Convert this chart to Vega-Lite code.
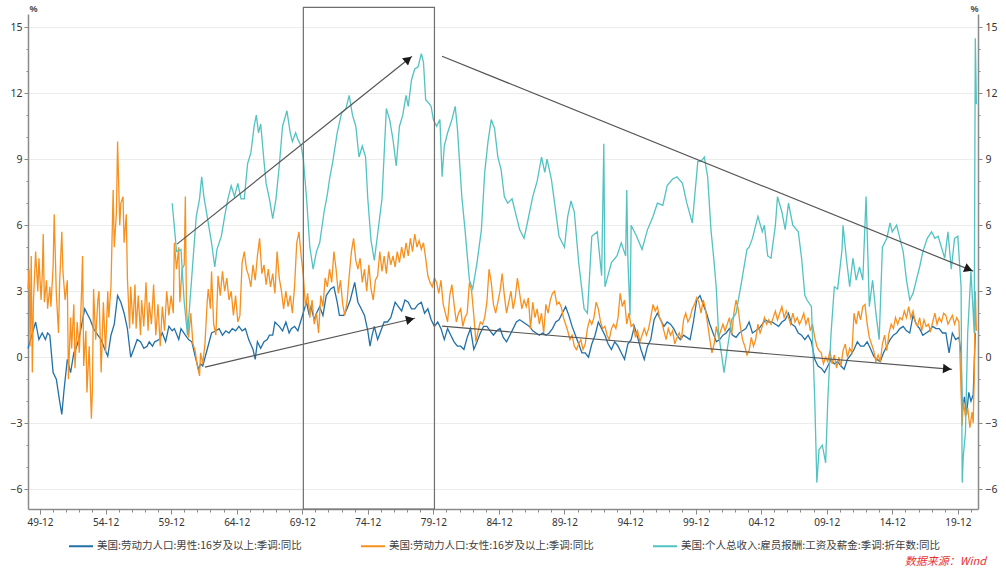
{
"$schema":"https://vega.github.io/schema/vega-lite/v6.json",
"width":950,"height":495,
"autosize":{"type":"none"},
"padding":{"left":28,"top":14,"right":28,"bottom":69},
"background":"white",
"config":{"view":{"stroke":null},"font":"Noto Sans"},
"title":{"text":"数据来源：Wind","orient":"bottom","anchor":"end","frame":"group","offset":4,"dx":8,"font":"Noto Sans CJK SC","fontSize":11,"fontStyle":"italic","fontWeight":"normal","color":"#e8312f"},
"datasets":{
"m":[{"t":"1949-01","v":0.4},{"t":"1949-04","v":0.9},{"t":"1949-08","v":1.6},{"t":"1949-11","v":0.8},{"t":"1950-02","v":1.1},{"t":"1950-05","v":0.8},{"t":"1950-07","v":1.1},{"t":"1950-09","v":1.0},{"t":"1950-12","v":-0.7},{"t":"1951-03","v":-1.0},{"t":"1951-06","v":-2.0},{"t":"1951-08","v":-2.6},{"t":"1951-10","v":-1.5},{"t":"1952-01","v":-0.1},{"t":"1952-04","v":-0.7},{"t":"1952-07","v":0.2},{"t":"1952-09","v":0.4},{"t":"1952-12","v":0.9},{"t":"1953-03","v":1.7},{"t":"1953-05","v":2.2},{"t":"1953-07","v":2.0},{"t":"1953-10","v":1.7},{"t":"1954-01","v":1.3},{"t":"1954-05","v":1.0},{"t":"1954-08","v":0.8},{"t":"1954-11","v":0.4},{"t":"1955-02","v":0.05},{"t":"1955-05","v":1.0},{"t":"1955-08","v":1.5},{"t":"1955-11","v":2.8},{"t":"1956-02","v":2.5},{"t":"1956-05","v":2.0},{"t":"1956-08","v":1.3},{"t":"1956-11","v":0.0},{"t":"1957-02","v":0.4},{"t":"1957-05","v":0.8},{"t":"1957-08","v":0.7},{"t":"1957-11","v":0.4},{"t":"1958-02","v":0.5},{"t":"1958-04","v":0.7},{"t":"1958-07","v":0.5},{"t":"1958-09","v":0.7},{"t":"1959-01","v":0.8},{"t":"1959-04","v":1.1},{"t":"1959-07","v":0.7},{"t":"1959-10","v":1.4},{"t":"1960-01","v":1.2},{"t":"1960-03","v":1.3},{"t":"1960-07","v":0.8},{"t":"1960-09","v":1.3},{"t":"1961-01","v":1.0},{"t":"1961-04","v":0.8},{"t":"1961-07","v":0.7},{"t":"1961-10","v":0.05},{"t":"1962-01","v":-0.55},{"t":"1962-03","v":-0.3},{"t":"1962-05","v":-0.4},{"t":"1962-09","v":0.35},{"t":"1963-01","v":1.1},{"t":"1963-05","v":1.2},{"t":"1963-08","v":1.3},{"t":"1963-11","v":1.0},{"t":"1964-02","v":1.2},{"t":"1964-05","v":1.1},{"t":"1964-08","v":1.3},{"t":"1964-11","v":1.2},{"t":"1965-02","v":1.4},{"t":"1965-05","v":1.2},{"t":"1965-08","v":1.3},{"t":"1965-11","v":0.8},{"t":"1966-03","v":0.35},{"t":"1966-05","v":-0.1},{"t":"1966-07","v":0.7},{"t":"1966-10","v":0.4},{"t":"1967-01","v":0.7},{"t":"1967-04","v":0.8},{"t":"1967-06","v":1.0},{"t":"1967-09","v":1.0},{"t":"1967-11","v":1.6},{"t":"1968-03","v":1.4},{"t":"1968-06","v":1.2},{"t":"1968-09","v":1.6},{"t":"1968-12","v":1.1},{"t":"1969-02","v":1.3},{"t":"1969-05","v":1.4},{"t":"1969-08","v":1.2},{"t":"1969-11","v":1.7},{"t":"1970-02","v":2.2},{"t":"1970-04","v":2.5},{"t":"1970-06","v":2.0},{"t":"1970-08","v":2.3},{"t":"1970-11","v":1.7},{"t":"1971-01","v":2.0},{"t":"1971-04","v":2.3},{"t":"1971-07","v":1.9},{"t":"1971-10","v":2.8},{"t":"1972-02","v":3.1},{"t":"1972-05","v":3.2},{"t":"1972-08","v":2.5},{"t":"1972-10","v":1.9},{"t":"1973-02","v":1.9},{"t":"1973-05","v":2.2},{"t":"1973-08","v":2.6},{"t":"1973-12","v":3.4},{"t":"1974-03","v":2.5},{"t":"1974-06","v":2.2},{"t":"1974-09","v":1.9},{"t":"1974-12","v":1.2},{"t":"1975-02","v":0.5},{"t":"1975-04","v":1.0},{"t":"1975-06","v":1.4},{"t":"1975-09","v":0.8},{"t":"1975-12","v":1.2},{"t":"1976-03","v":1.6},{"t":"1976-06","v":1.6},{"t":"1976-09","v":1.8},{"t":"1977-01","v":2.5},{"t":"1977-04","v":2.3},{"t":"1977-07","v":2.1},{"t":"1977-10","v":2.6},{"t":"1978-01","v":2.5},{"t":"1978-04","v":2.2},{"t":"1978-07","v":2.2},{"t":"1978-10","v":2.4},{"t":"1979-01","v":2.5},{"t":"1979-04","v":2.0},{"t":"1979-07","v":2.2},{"t":"1979-10","v":1.7},{"t":"1980-01","v":1.4},{"t":"1980-04","v":1.6},{"t":"1980-07","v":1.3},{"t":"1980-10","v":0.8},{"t":"1981-01","v":1.3},{"t":"1981-04","v":1.0},{"t":"1981-07","v":0.7},{"t":"1981-10","v":0.5},{"t":"1982-01","v":0.5},{"t":"1982-04","v":0.35},{"t":"1982-07","v":0.9},{"t":"1982-10","v":1.3},{"t":"1983-01","v":0.35},{"t":"1983-04","v":0.7},{"t":"1983-07","v":1.1},{"t":"1983-10","v":1.4},{"t":"1984-01","v":1.4},{"t":"1984-04","v":1.2},{"t":"1984-07","v":1.0},{"t":"1984-10","v":1.2},{"t":"1985-01","v":1.3},{"t":"1985-04","v":0.9},{"t":"1985-07","v":0.7},{"t":"1985-10","v":1.0},{"t":"1986-01","v":1.3},{"t":"1986-04","v":1.6},{"t":"1986-07","v":1.7},{"t":"1986-10","v":1.6},{"t":"1987-01","v":1.5},{"t":"1987-04","v":1.4},{"t":"1987-07","v":1.2},{"t":"1987-10","v":1.1},{"t":"1988-01","v":1.0},{"t":"1988-04","v":1.1},{"t":"1988-07","v":1.0},{"t":"1988-10","v":1.1},{"t":"1989-01","v":1.3},{"t":"1989-04","v":1.6},{"t":"1989-07","v":1.7},{"t":"1989-10","v":2.0},{"t":"1990-01","v":2.3},{"t":"1990-04","v":1.9},{"t":"1990-07","v":1.4},{"t":"1990-10","v":1.0},{"t":"1991-01","v":0.6},{"t":"1991-04","v":0.2},{"t":"1991-07","v":0.2},{"t":"1991-10","v":0.0},{"t":"1992-01","v":0.6},{"t":"1992-04","v":1.0},{"t":"1992-07","v":1.6},{"t":"1992-10","v":1.3},{"t":"1993-01","v":1.0},{"t":"1993-04","v":0.6},{"t":"1993-07","v":0.35},{"t":"1993-10","v":0.7},{"t":"1994-01","v":0.5},{"t":"1994-04","v":0.2},{"t":"1994-07","v":-0.1},{"t":"1994-10","v":0.6},{"t":"1995-01","v":0.8},{"t":"1995-04","v":1.4},{"t":"1995-07","v":0.9},{"t":"1995-10","v":0.35},{"t":"1996-01","v":-0.1},{"t":"1996-04","v":0.5},{"t":"1996-07","v":0.8},{"t":"1996-10","v":1.7},{"t":"1997-01","v":2.0},{"t":"1997-04","v":1.7},{"t":"1997-07","v":1.4},{"t":"1997-10","v":1.6},{"t":"1998-01","v":1.5},{"t":"1998-04","v":1.3},{"t":"1998-07","v":1.0},{"t":"1998-10","v":0.8},{"t":"1999-01","v":1.0},{"t":"1999-04","v":0.9},{"t":"1999-07","v":0.8},{"t":"1999-10","v":1.6},{"t":"2000-01","v":2.6},{"t":"2000-04","v":2.8},{"t":"2000-07","v":2.4},{"t":"2000-10","v":2.0},{"t":"2001-01","v":1.5},{"t":"2001-04","v":1.1},{"t":"2001-07","v":0.7},{"t":"2001-10","v":0.8},{"t":"2002-01","v":1.0},{"t":"2002-04","v":1.1},{"t":"2002-07","v":1.3},{"t":"2002-10","v":1.0},{"t":"2003-01","v":0.9},{"t":"2003-04","v":1.1},{"t":"2003-07","v":1.2},{"t":"2003-10","v":1.3},{"t":"2004-01","v":1.6},{"t":"2004-04","v":1.1},{"t":"2004-07","v":1.2},{"t":"2004-10","v":1.3},{"t":"2005-01","v":1.5},{"t":"2005-04","v":1.7},{"t":"2005-07","v":1.6},{"t":"2005-10","v":1.6},{"t":"2006-01","v":1.5},{"t":"2006-04","v":1.4},{"t":"2006-07","v":1.6},{"t":"2006-10","v":1.7},{"t":"2007-01","v":2.0},{"t":"2007-04","v":1.5},{"t":"2007-07","v":1.4},{"t":"2007-10","v":1.1},{"t":"2008-01","v":1.0},{"t":"2008-04","v":0.8},{"t":"2008-07","v":1.0},{"t":"2008-10","v":0.7},{"t":"2009-01","v":-0.1},{"t":"2009-04","v":-0.4},{"t":"2009-07","v":-0.5},{"t":"2009-10","v":-0.7},{"t":"2010-01","v":-0.4},{"t":"2010-04","v":-0.1},{"t":"2010-07","v":-0.3},{"t":"2010-10","v":-0.2},{"t":"2011-01","v":-0.4},{"t":"2011-04","v":-0.55},{"t":"2011-07","v":-0.1},{"t":"2011-10","v":0.1},{"t":"2012-01","v":0.35},{"t":"2012-04","v":0.7},{"t":"2012-07","v":0.5},{"t":"2012-10","v":0.5},{"t":"2013-01","v":0.7},{"t":"2013-04","v":0.4},{"t":"2013-07","v":0.05},{"t":"2013-10","v":-0.1},{"t":"2014-01","v":-0.2},{"t":"2014-04","v":0.2},{"t":"2014-07","v":0.5},{"t":"2014-10","v":0.8},{"t":"2015-01","v":1.0},{"t":"2015-04","v":1.1},{"t":"2015-07","v":1.3},{"t":"2015-10","v":1.4},{"t":"2016-01","v":1.2},{"t":"2016-04","v":1.1},{"t":"2016-07","v":1.9},{"t":"2016-10","v":1.5},{"t":"2017-01","v":1.3},{"t":"2017-04","v":1.0},{"t":"2017-07","v":1.1},{"t":"2017-10","v":1.2},{"t":"2018-01","v":1.4},{"t":"2018-04","v":1.3},{"t":"2018-07","v":1.3},{"t":"2018-10","v":1.1},{"t":"2019-01","v":1.1},{"t":"2019-04","v":0.2},{"t":"2019-07","v":1.1},{"t":"2019-10","v":0.8},{"t":"2020-01","v":0.9},{"t":"2020-03","v":0.2},{"t":"2020-04","v":-2.5},{"t":"2020-06","v":-1.8},{"t":"2020-08","v":-2.6},{"t":"2020-10","v":-1.6},{"t":"2020-12","v":-2.0},{"t":"2021-02","v":-1.7},{"t":"2021-03","v":-0.4},{"t":"2021-04","v":1.1}],
"f":[{"t":"1949-01","v":3.1},{"t":"1949-02","v":4.0},{"t":"1949-03","v":0.5},{"t":"1949-04","v":4.6},{"t":"1949-05","v":-0.7},{"t":"1949-06","v":2.5},{"t":"1949-08","v":4.8},{"t":"1949-10","v":3.0},{"t":"1949-11","v":4.5},{"t":"1950-01","v":2.6},{"t":"1950-02","v":3.7},{"t":"1950-03","v":5.6},{"t":"1950-04","v":2.5},{"t":"1950-06","v":3.5},{"t":"1950-07","v":2.2},{"t":"1950-09","v":3.2},{"t":"1950-10","v":2.3},{"t":"1950-12","v":4.1},{"t":"1951-01","v":6.5},{"t":"1951-03","v":2.9},{"t":"1951-05","v":1.1},{"t":"1951-06","v":3.4},{"t":"1951-08","v":5.7},{"t":"1951-09","v":3.9},{"t":"1951-11","v":2.6},{"t":"1952-01","v":3.5},{"t":"1952-02","v":-1.0},{"t":"1952-04","v":1.8},{"t":"1952-05","v":0.4},{"t":"1952-07","v":2.4},{"t":"1952-08","v":-0.5},{"t":"1952-10","v":1.6},{"t":"1952-12","v":0.2},{"t":"1953-02","v":3.0},{"t":"1953-03","v":4.6},{"t":"1953-04","v":-0.4},{"t":"1953-06","v":1.2},{"t":"1953-07","v":-1.6},{"t":"1953-09","v":0.5},{"t":"1953-11","v":-2.8},{"t":"1953-12","v":-1.5},{"t":"1954-01","v":3.1},{"t":"1954-03","v":0.8},{"t":"1954-05","v":2.6},{"t":"1954-06","v":3.0},{"t":"1954-08","v":-0.7},{"t":"1954-10","v":2.5},{"t":"1954-12","v":0.2},{"t":"1955-02","v":3.0},{"t":"1955-03","v":1.8},{"t":"1955-05","v":3.2},{"t":"1955-07","v":7.6},{"t":"1955-08","v":5.0},{"t":"1955-10","v":6.6},{"t":"1955-11","v":9.8},{"t":"1956-01","v":6.0},{"t":"1956-02","v":7.0},{"t":"1956-04","v":7.3},{"t":"1956-05","v":5.2},{"t":"1956-07","v":6.5},{"t":"1956-08","v":3.6},{"t":"1956-10","v":1.3},{"t":"1956-11","v":3.2},{"t":"1957-01","v":1.5},{"t":"1957-03","v":3.3},{"t":"1957-04","v":1.3},{"t":"1957-06","v":2.8},{"t":"1957-08","v":1.0},{"t":"1957-09","v":2.6},{"t":"1957-11","v":1.4},{"t":"1958-01","v":3.4},{"t":"1958-03","v":1.2},{"t":"1958-04","v":2.5},{"t":"1958-06","v":1.5},{"t":"1958-08","v":3.3},{"t":"1958-10","v":1.0},{"t":"1958-12","v":2.4},{"t":"1959-02","v":0.5},{"t":"1959-04","v":2.3},{"t":"1959-06","v":1.2},{"t":"1959-08","v":3.0},{"t":"1959-10","v":1.9},{"t":"1959-12","v":2.8},{"t":"1960-02","v":2.0},{"t":"1960-03","v":5.2},{"t":"1960-05","v":4.0},{"t":"1960-07","v":5.0},{"t":"1960-08","v":2.5},{"t":"1960-10","v":4.0},{"t":"1960-12","v":4.2},{"t":"1961-01","v":7.3},{"t":"1961-02","v":2.2},{"t":"1961-04","v":0.9},{"t":"1961-06","v":2.0},{"t":"1961-08","v":0.6},{"t":"1961-10","v":0.3},{"t":"1961-12","v":-0.4},{"t":"1962-02","v":-0.85},{"t":"1962-03","v":0.2},{"t":"1962-05","v":-0.3},{"t":"1962-07","v":0.6},{"t":"1962-09","v":2.5},{"t":"1962-10","v":3.1},{"t":"1962-12","v":2.2},{"t":"1963-01","v":3.9},{"t":"1963-03","v":1.5},{"t":"1963-05","v":1.0},{"t":"1963-07","v":3.7},{"t":"1963-09","v":2.8},{"t":"1963-11","v":3.9},{"t":"1964-01","v":3.0},{"t":"1964-03","v":3.6},{"t":"1964-05","v":2.6},{"t":"1964-07","v":3.0},{"t":"1964-09","v":1.9},{"t":"1964-11","v":2.8},{"t":"1965-01","v":1.6},{"t":"1965-03","v":1.9},{"t":"1965-05","v":4.3},{"t":"1965-07","v":4.8},{"t":"1965-09","v":4.0},{"t":"1965-11","v":3.7},{"t":"1966-01","v":3.2},{"t":"1966-03","v":4.2},{"t":"1966-05","v":3.5},{"t":"1966-07","v":4.6},{"t":"1966-09","v":5.4},{"t":"1966-11","v":3.8},{"t":"1967-01","v":4.2},{"t":"1967-03","v":3.3},{"t":"1967-05","v":4.0},{"t":"1967-07","v":3.2},{"t":"1967-09","v":3.8},{"t":"1967-11","v":2.9},{"t":"1968-01","v":4.8},{"t":"1968-03","v":3.6},{"t":"1968-05","v":3.0},{"t":"1968-07","v":2.2},{"t":"1968-09","v":3.0},{"t":"1968-11","v":2.3},{"t":"1969-01","v":2.8},{"t":"1969-03","v":2.0},{"t":"1969-05","v":3.2},{"t":"1969-07","v":5.2},{"t":"1969-09","v":5.7},{"t":"1969-11","v":4.6},{"t":"1970-01","v":3.7},{"t":"1970-03","v":2.3},{"t":"1970-05","v":2.9},{"t":"1970-07","v":1.8},{"t":"1970-09","v":2.6},{"t":"1970-11","v":1.5},{"t":"1971-01","v":2.0},{"t":"1971-03","v":1.1},{"t":"1971-05","v":2.8},{"t":"1971-07","v":2.3},{"t":"1971-09","v":3.6},{"t":"1971-11","v":3.2},{"t":"1972-01","v":4.0},{"t":"1972-03","v":3.4},{"t":"1972-05","v":4.8},{"t":"1972-07","v":4.0},{"t":"1972-09","v":2.9},{"t":"1972-11","v":3.5},{"t":"1973-01","v":2.4},{"t":"1973-03","v":1.9},{"t":"1973-05","v":2.5},{"t":"1973-07","v":3.7},{"t":"1973-09","v":4.8},{"t":"1973-11","v":5.4},{"t":"1974-01","v":4.4},{"t":"1974-03","v":4.0},{"t":"1974-05","v":4.5},{"t":"1974-07","v":3.4},{"t":"1974-09","v":4.0},{"t":"1974-11","v":3.0},{"t":"1975-01","v":4.2},{"t":"1975-03","v":3.1},{"t":"1975-05","v":2.6},{"t":"1975-07","v":3.5},{"t":"1975-09","v":3.7},{"t":"1975-11","v":4.8},{"t":"1976-01","v":3.9},{"t":"1976-03","v":4.6},{"t":"1976-05","v":3.8},{"t":"1976-07","v":4.8},{"t":"1976-09","v":4.2},{"t":"1976-11","v":4.6},{"t":"1977-01","v":4.1},{"t":"1977-03","v":4.8},{"t":"1977-05","v":4.3},{"t":"1977-07","v":5.0},{"t":"1977-09","v":4.5},{"t":"1977-11","v":5.2},{"t":"1978-01","v":4.6},{"t":"1978-03","v":5.4},{"t":"1978-05","v":4.8},{"t":"1978-07","v":5.6},{"t":"1978-09","v":5.0},{"t":"1978-11","v":5.3},{"t":"1979-01","v":4.9},{"t":"1979-03","v":5.2},{"t":"1979-05","v":4.5},{"t":"1979-07","v":3.7},{"t":"1979-09","v":3.4},{"t":"1979-11","v":3.2},{"t":"1980-01","v":3.6},{"t":"1980-03","v":3.4},{"t":"1980-05","v":2.9},{"t":"1980-07","v":3.5},{"t":"1980-09","v":2.4},{"t":"1980-11","v":2.0},{"t":"1981-01","v":1.6},{"t":"1981-03","v":2.8},{"t":"1981-05","v":3.3},{"t":"1981-07","v":2.4},{"t":"1981-09","v":1.6},{"t":"1981-11","v":2.0},{"t":"1982-01","v":2.2},{"t":"1982-03","v":1.4},{"t":"1982-05","v":1.8},{"t":"1982-07","v":2.0},{"t":"1982-09","v":3.4},{"t":"1982-11","v":3.0},{"t":"1983-01","v":1.9},{"t":"1983-03","v":0.7},{"t":"1983-05","v":1.2},{"t":"1983-07","v":1.6},{"t":"1983-09","v":1.5},{"t":"1983-11","v":1.8},{"t":"1984-01","v":2.5},{"t":"1984-03","v":4.0},{"t":"1984-05","v":3.4},{"t":"1984-07","v":2.4},{"t":"1984-09","v":2.0},{"t":"1984-11","v":2.5},{"t":"1985-01","v":3.0},{"t":"1985-03","v":3.8},{"t":"1985-05","v":2.8},{"t":"1985-07","v":2.0},{"t":"1985-09","v":2.5},{"t":"1985-11","v":3.0},{"t":"1986-01","v":2.2},{"t":"1986-03","v":2.7},{"t":"1986-05","v":3.6},{"t":"1986-07","v":2.9},{"t":"1986-09","v":2.2},{"t":"1986-11","v":2.6},{"t":"1987-01","v":2.3},{"t":"1987-03","v":2.7},{"t":"1987-05","v":1.3},{"t":"1987-07","v":2.5},{"t":"1987-09","v":1.8},{"t":"1987-11","v":2.2},{"t":"1988-01","v":1.5},{"t":"1988-03","v":2.0},{"t":"1988-05","v":1.1},{"t":"1988-07","v":2.4},{"t":"1988-09","v":2.0},{"t":"1988-11","v":2.6},{"t":"1989-01","v":2.9},{"t":"1989-03","v":3.0},{"t":"1989-05","v":2.4},{"t":"1989-07","v":2.5},{"t":"1989-09","v":2.3},{"t":"1989-11","v":1.8},{"t":"1990-01","v":1.5},{"t":"1990-03","v":1.2},{"t":"1990-05","v":0.8},{"t":"1990-07","v":1.0},{"t":"1990-09","v":0.5},{"t":"1990-11","v":0.35},{"t":"1991-01","v":0.6},{"t":"1991-03","v":0.8},{"t":"1991-05","v":0.35},{"t":"1991-07","v":0.6},{"t":"1991-09","v":1.3},{"t":"1991-11","v":1.7},{"t":"1992-01","v":1.5},{"t":"1992-03","v":1.8},{"t":"1992-05","v":2.5},{"t":"1992-07","v":2.2},{"t":"1992-09","v":1.6},{"t":"1992-11","v":1.3},{"t":"1993-01","v":1.4},{"t":"1993-03","v":1.0},{"t":"1993-05","v":0.8},{"t":"1993-07","v":1.3},{"t":"1993-09","v":1.5},{"t":"1993-11","v":1.3},{"t":"1994-01","v":1.8},{"t":"1994-03","v":2.9},{"t":"1994-05","v":2.3},{"t":"1994-07","v":2.6},{"t":"1994-09","v":1.5},{"t":"1994-11","v":2.0},{"t":"1995-01","v":1.4},{"t":"1995-03","v":1.5},{"t":"1995-05","v":0.9},{"t":"1995-07","v":1.2},{"t":"1995-09","v":0.7},{"t":"1995-11","v":1.0},{"t":"1996-01","v":1.3},{"t":"1996-03","v":1.0},{"t":"1996-05","v":1.3},{"t":"1996-07","v":1.8},{"t":"1996-09","v":2.4},{"t":"1996-11","v":2.1},{"t":"1997-01","v":2.3},{"t":"1997-03","v":1.8},{"t":"1997-05","v":1.6},{"t":"1997-07","v":1.2},{"t":"1997-09","v":0.8},{"t":"1997-11","v":1.3},{"t":"1998-01","v":1.0},{"t":"1998-03","v":1.2},{"t":"1998-05","v":0.6},{"t":"1998-07","v":0.9},{"t":"1998-09","v":1.1},{"t":"1998-11","v":0.8},{"t":"1999-01","v":1.7},{"t":"1999-03","v":2.0},{"t":"1999-05","v":1.6},{"t":"1999-07","v":1.8},{"t":"1999-09","v":2.2},{"t":"1999-11","v":2.4},{"t":"2000-01","v":2.7},{"t":"2000-03","v":2.5},{"t":"2000-05","v":2.0},{"t":"2000-07","v":2.6},{"t":"2000-09","v":2.2},{"t":"2000-11","v":1.5},{"t":"2001-01","v":0.8},{"t":"2001-03","v":0.2},{"t":"2001-05","v":0.6},{"t":"2001-07","v":1.4},{"t":"2001-09","v":0.9},{"t":"2001-11","v":1.2},{"t":"2002-01","v":1.5},{"t":"2002-03","v":1.2},{"t":"2002-05","v":1.5},{"t":"2002-07","v":1.8},{"t":"2002-09","v":1.0},{"t":"2002-11","v":2.0},{"t":"2003-01","v":2.6},{"t":"2003-03","v":2.2},{"t":"2003-05","v":1.4},{"t":"2003-07","v":0.8},{"t":"2003-09","v":0.5},{"t":"2003-11","v":0.1},{"t":"2004-01","v":0.3},{"t":"2004-03","v":0.9},{"t":"2004-05","v":0.5},{"t":"2004-07","v":0.8},{"t":"2004-09","v":1.5},{"t":"2004-11","v":1.1},{"t":"2005-01","v":1.4},{"t":"2005-03","v":1.8},{"t":"2005-05","v":1.5},{"t":"2005-07","v":1.7},{"t":"2005-09","v":1.5},{"t":"2005-11","v":1.8},{"t":"2006-01","v":2.1},{"t":"2006-03","v":1.7},{"t":"2006-05","v":2.0},{"t":"2006-07","v":2.3},{"t":"2006-09","v":1.8},{"t":"2006-11","v":2.1},{"t":"2007-01","v":1.8},{"t":"2007-03","v":1.5},{"t":"2007-05","v":2.0},{"t":"2007-07","v":1.6},{"t":"2007-09","v":1.8},{"t":"2007-11","v":1.5},{"t":"2008-01","v":1.7},{"t":"2008-03","v":2.0},{"t":"2008-05","v":1.5},{"t":"2008-07","v":1.8},{"t":"2008-09","v":1.2},{"t":"2008-11","v":1.5},{"t":"2009-01","v":0.9},{"t":"2009-03","v":0.5},{"t":"2009-05","v":0.3},{"t":"2009-07","v":0.2},{"t":"2009-09","v":-0.3},{"t":"2009-11","v":0.0},{"t":"2010-01","v":-0.2},{"t":"2010-03","v":0.3},{"t":"2010-05","v":-0.3},{"t":"2010-07","v":0.1},{"t":"2010-09","v":-0.5},{"t":"2010-11","v":0.0},{"t":"2011-01","v":-0.4},{"t":"2011-03","v":0.3},{"t":"2011-05","v":0.6},{"t":"2011-07","v":0.0},{"t":"2011-09","v":0.4},{"t":"2011-11","v":0.2},{"t":"2012-01","v":2.0},{"t":"2012-03","v":1.5},{"t":"2012-05","v":2.1},{"t":"2012-07","v":1.7},{"t":"2012-09","v":2.3},{"t":"2012-11","v":2.4},{"t":"2013-01","v":1.5},{"t":"2013-03","v":0.9},{"t":"2013-05","v":0.6},{"t":"2013-07","v":0.3},{"t":"2013-09","v":-0.2},{"t":"2013-11","v":0.1},{"t":"2014-01","v":-0.2},{"t":"2014-03","v":0.6},{"t":"2014-05","v":1.0},{"t":"2014-07","v":0.3},{"t":"2014-09","v":1.1},{"t":"2014-11","v":1.5},{"t":"2015-01","v":1.3},{"t":"2015-03","v":1.8},{"t":"2015-05","v":1.5},{"t":"2015-07","v":1.8},{"t":"2015-09","v":1.7},{"t":"2015-11","v":2.1},{"t":"2016-01","v":1.8},{"t":"2016-03","v":2.3},{"t":"2016-05","v":1.8},{"t":"2016-07","v":2.1},{"t":"2016-09","v":1.6},{"t":"2016-11","v":1.4},{"t":"2017-01","v":1.8},{"t":"2017-03","v":1.2},{"t":"2017-05","v":1.7},{"t":"2017-07","v":1.4},{"t":"2017-09","v":1.5},{"t":"2017-11","v":1.2},{"t":"2018-01","v":1.6},{"t":"2018-03","v":2.0},{"t":"2018-05","v":1.5},{"t":"2018-07","v":1.8},{"t":"2018-09","v":1.6},{"t":"2018-11","v":2.0},{"t":"2019-01","v":1.9},{"t":"2019-03","v":1.5},{"t":"2019-05","v":1.7},{"t":"2019-07","v":1.9},{"t":"2019-09","v":1.5},{"t":"2019-11","v":1.8},{"t":"2020-01","v":1.6},{"t":"2020-03","v":-1.6},{"t":"2020-04","v":-3.1},{"t":"2020-05","v":-2.0},{"t":"2020-07","v":-2.7},{"t":"2020-09","v":-2.3},{"t":"2020-11","v":-3.2},{"t":"2021-01","v":-2.5},{"t":"2021-02","v":-3.0},{"t":"2021-03","v":-1.0},{"t":"2021-04","v":3.0},{"t":"2021-05","v":1.2}],
"w":[{"t":"1960-01","v":7.0},{"t":"1960-05","v":4.8},{"t":"1960-09","v":4.9},{"t":"1960-12","v":2.5},{"t":"1961-03","v":1.0},{"t":"1961-07","v":3.7},{"t":"1961-11","v":6.4},{"t":"1962-02","v":7.2},{"t":"1962-04","v":8.2},{"t":"1962-06","v":7.3},{"t":"1962-09","v":6.4},{"t":"1963-01","v":5.2},{"t":"1963-04","v":4.1},{"t":"1963-06","v":4.9},{"t":"1963-10","v":5.5},{"t":"1964-01","v":6.4},{"t":"1964-04","v":7.2},{"t":"1964-07","v":7.8},{"t":"1964-10","v":7.3},{"t":"1965-01","v":7.9},{"t":"1965-04","v":7.2},{"t":"1965-07","v":7.2},{"t":"1965-10","v":8.8},{"t":"1966-01","v":9.3},{"t":"1966-04","v":10.5},{"t":"1966-06","v":11.0},{"t":"1966-08","v":10.2},{"t":"1966-10","v":10.6},{"t":"1967-01","v":8.9},{"t":"1967-03","v":7.9},{"t":"1967-06","v":7.2},{"t":"1967-09","v":6.3},{"t":"1967-12","v":7.2},{"t":"1968-03","v":8.7},{"t":"1968-06","v":10.5},{"t":"1968-10","v":11.2},{"t":"1969-01","v":10.2},{"t":"1969-03","v":9.8},{"t":"1969-06","v":10.2},{"t":"1969-08","v":9.9},{"t":"1969-11","v":9.6},{"t":"1970-01","v":9.0},{"t":"1970-04","v":7.2},{"t":"1970-07","v":5.0},{"t":"1970-10","v":4.0},{"t":"1971-01","v":4.8},{"t":"1971-04","v":5.2},{"t":"1971-08","v":6.6},{"t":"1971-11","v":7.4},{"t":"1972-01","v":8.1},{"t":"1972-04","v":8.9},{"t":"1972-08","v":10.2},{"t":"1972-12","v":11.1},{"t":"1973-04","v":11.3},{"t":"1973-07","v":11.9},{"t":"1973-10","v":11.0},{"t":"1974-01","v":10.5},{"t":"1974-04","v":9.1},{"t":"1974-07","v":9.6},{"t":"1974-10","v":9.1},{"t":"1974-12","v":7.2},{"t":"1975-03","v":5.3},{"t":"1975-06","v":4.4},{"t":"1975-09","v":5.6},{"t":"1976-01","v":7.2},{"t":"1976-05","v":11.3},{"t":"1976-08","v":10.8},{"t":"1976-11","v":9.9},{"t":"1977-02","v":8.7},{"t":"1977-05","v":10.5},{"t":"1977-08","v":11.0},{"t":"1977-11","v":11.9},{"t":"1978-01","v":11.4},{"t":"1978-04","v":12.6},{"t":"1978-07","v":13.1},{"t":"1978-10","v":13.2},{"t":"1979-01","v":13.8},{"t":"1979-03","v":13.4},{"t":"1979-05","v":11.7},{"t":"1979-07","v":11.6},{"t":"1979-10","v":11.4},{"t":"1979-12","v":10.8},{"t":"1980-03","v":10.5},{"t":"1980-06","v":10.8},{"t":"1980-08","v":8.2},{"t":"1980-10","v":9.6},{"t":"1981-01","v":10.2},{"t":"1981-05","v":10.8},{"t":"1981-08","v":11.4},{"t":"1981-10","v":10.4},{"t":"1982-02","v":7.3},{"t":"1982-05","v":5.8},{"t":"1982-09","v":3.5},{"t":"1982-12","v":3.1},{"t":"1983-04","v":4.3},{"t":"1983-08","v":5.8},{"t":"1983-11","v":8.4},{"t":"1984-02","v":9.8},{"t":"1984-05","v":10.8},{"t":"1984-08","v":10.4},{"t":"1984-11","v":9.1},{"t":"1985-02","v":8.5},{"t":"1985-05","v":7.3},{"t":"1985-08","v":7.0},{"t":"1985-12","v":7.2},{"t":"1986-04","v":6.4},{"t":"1986-07","v":5.8},{"t":"1986-11","v":5.4},{"t":"1987-02","v":6.1},{"t":"1987-07","v":7.3},{"t":"1987-11","v":8.0},{"t":"1988-03","v":9.1},{"t":"1988-06","v":8.4},{"t":"1988-08","v":9.0},{"t":"1988-12","v":8.1},{"t":"1989-03","v":7.0},{"t":"1989-07","v":5.5},{"t":"1989-12","v":5.0},{"t":"1990-03","v":6.4},{"t":"1990-06","v":7.1},{"t":"1990-09","v":6.6},{"t":"1991-01","v":4.3},{"t":"1991-06","v":2.2},{"t":"1991-09","v":2.0},{"t":"1992-01","v":5.5},{"t":"1992-06","v":5.7},{"t":"1992-10","v":3.7},{"t":"1992-12","v":9.7},{"t":"1993-01","v":3.2},{"t":"1993-07","v":4.3},{"t":"1993-12","v":4.6},{"t":"1994-04","v":5.2},{"t":"1994-08","v":4.6},{"t":"1994-09","v":7.6},{"t":"1994-10","v":4.5},{"t":"1994-12","v":1.9},{"t":"1995-01","v":6.0},{"t":"1995-06","v":5.5},{"t":"1995-11","v":4.9},{"t":"1996-04","v":5.8},{"t":"1996-09","v":6.4},{"t":"1997-01","v":7.0},{"t":"1997-06","v":6.9},{"t":"1997-10","v":7.8},{"t":"1998-03","v":8.1},{"t":"1998-07","v":8.2},{"t":"1998-12","v":7.9},{"t":"1999-04","v":7.0},{"t":"1999-09","v":6.1},{"t":"2000-02","v":8.9},{"t":"2000-05","v":8.9},{"t":"2000-08","v":9.1},{"t":"2000-11","v":8.2},{"t":"2001-02","v":5.8},{"t":"2001-05","v":4.3},{"t":"2001-07","v":3.1},{"t":"2001-09","v":1.1},{"t":"2002-02","v":-0.7},{"t":"2002-05","v":0.35},{"t":"2002-09","v":1.7},{"t":"2003-01","v":2.0},{"t":"2003-06","v":3.4},{"t":"2003-11","v":4.9},{"t":"2004-01","v":5.0},{"t":"2004-04","v":5.4},{"t":"2004-09","v":6.4},{"t":"2005-01","v":5.7},{"t":"2005-03","v":6.0},{"t":"2005-06","v":4.6},{"t":"2005-09","v":4.5},{"t":"2006-01","v":6.0},{"t":"2006-03","v":7.3},{"t":"2006-07","v":6.6},{"t":"2006-10","v":5.8},{"t":"2007-01","v":7.0},{"t":"2007-05","v":6.0},{"t":"2007-10","v":5.7},{"t":"2008-01","v":4.5},{"t":"2008-04","v":2.8},{"t":"2008-06","v":2.6},{"t":"2008-10","v":2.3},{"t":"2009-01","v":-1.9},{"t":"2009-03","v":-5.7},{"t":"2009-05","v":-4.2},{"t":"2009-08","v":-4.0},{"t":"2009-11","v":-4.8},{"t":"2010-01","v":-1.9},{"t":"2010-04","v":1.1},{"t":"2010-07","v":3.2},{"t":"2010-10","v":3.1},{"t":"2011-02","v":4.9},{"t":"2011-03","v":6.0},{"t":"2011-06","v":4.5},{"t":"2011-09","v":3.2},{"t":"2011-12","v":4.5},{"t":"2012-03","v":3.5},{"t":"2012-06","v":4.1},{"t":"2012-09","v":3.5},{"t":"2012-12","v":7.3},{"t":"2013-01","v":5.7},{"t":"2013-03","v":2.3},{"t":"2013-06","v":3.5},{"t":"2013-09","v":2.0},{"t":"2013-12","v":0.8},{"t":"2014-03","v":5.0},{"t":"2014-07","v":5.4},{"t":"2014-10","v":6.1},{"t":"2014-12","v":5.7},{"t":"2015-04","v":6.0},{"t":"2015-07","v":5.4},{"t":"2015-10","v":4.8},{"t":"2016-01","v":3.5},{"t":"2016-04","v":2.6},{"t":"2016-07","v":2.9},{"t":"2016-10","v":3.5},{"t":"2017-01","v":4.1},{"t":"2017-04","v":4.8},{"t":"2017-08","v":5.4},{"t":"2017-12","v":5.7},{"t":"2018-03","v":5.4},{"t":"2018-06","v":5.5},{"t":"2018-09","v":5.0},{"t":"2018-12","v":4.5},{"t":"2019-03","v":5.7},{"t":"2019-06","v":4.0},{"t":"2019-09","v":5.4},{"t":"2019-12","v":5.5},{"t":"2020-02","v":3.9},{"t":"2020-03","v":3.2},{"t":"2020-04","v":-5.7},{"t":"2020-05","v":-4.5},{"t":"2020-07","v":-3.4},{"t":"2020-09","v":1.1},{"t":"2020-12","v":3.9},{"t":"2021-02","v":2.0},{"t":"2021-03","v":1.1},{"t":"2021-04","v":14.5},{"t":"2021-05","v":11.5}],
"arrows":[{"x":"1960-05-14","y":5.14,"x2":"1978-04-16","y2":13.68},{"x":"1980-07-31","y":13.68,"x2":"2021-02-01","y2":3.91},{"x":"1962-07-02","y":-0.45,"x2":"1978-07-09","y2":1.77},{"x":"1980-07-31","y":1.41,"x2":"2019-06-25","y2":-0.55}],
"box":[{"x":"1970-01-01","x2":"1980-01-01","y":15.9,"y2":-6.9}]
},
"layer":[
{"layer":[
{"data":{"name":"m"},"mark":{"type":"line","strokeWidth":1.3},
"encoding":{
"x":{"field":"t","type":"temporal","axis":null,"scale":{"type":"utc","domain":[{"year":1949,"month":1,"date":1,"utc":true},{"year":2021,"month":6,"date":15,"utc":true}]}},
"y":{"field":"v","type":"quantitative","axis":null,"scale":{"domain":[-6.9,15.6],"nice":false,"zero":false}},
"color":{"datum":"美国:劳动力人口:男性:16岁及以上:季调:同比","type":"nominal",
"scale":{"domain":["美国:劳动力人口:男性:16岁及以上:季调:同比","美国:劳动力人口:女性:16岁及以上:季调:同比","美国:个人总收入:雇员报酬:工资及薪金:季调:折年数:同比"],"range":["#2170a8","#f7901e","#52c2c2"]},
"legend":{"title":null,"orient":"none","legendX":40,"legendY":519,"direction":"horizontal","symbolType":"stroke","symbolStrokeWidth":2,"symbolSize":576,"labelFont":"Noto Sans CJK SC","labelFontSize":10.5,"labelColor":"#404040","labelOffset":3,"columnPadding":55,"labelLimit":400,"padding":0}}}},
{"data":{"name":"f"},"mark":{"type":"line","strokeWidth":1.3},
"encoding":{"x":{"field":"t","type":"temporal","axis":null},"y":{"field":"v","type":"quantitative","axis":null},"color":{"datum":"美国:劳动力人口:女性:16岁及以上:季调:同比","type":"nominal"}}},
{"data":{"name":"w"},"mark":{"type":"line","strokeWidth":1.3},
"encoding":{"x":{"field":"t","type":"temporal","axis":null},"y":{"field":"v","type":"quantitative","axis":null},"color":{"datum":"美国:个人总收入:雇员报酬:工资及薪金:季调:折年数:同比","type":"nominal"}}},
{"data":{"name":"arrows"},"mark":{"type":"rule","color":"#555555","strokeWidth":1.2},
"encoding":{"x":{"field":"x","type":"temporal","axis":null},"x2":{"field":"x2"},"y":{"field":"y","type":"quantitative","axis":null},"y2":{"field":"y2"}}},
{"data":{"values":[{"x":"1978-01-01","y":13.54}]},"mark":{"type":"point","shape":"triangle-right","filled":true,"color":"#1a1a1a","opacity":1,"size":90,"angle":321},
"encoding":{"x":{"field":"x","type":"temporal","axis":null},"y":{"field":"y","type":"quantitative","axis":null}}},
{"data":{"values":[{"x":"2020-09-25","y":4.0}]},"mark":{"type":"point","shape":"triangle-right","filled":true,"color":"#1a1a1a","opacity":1,"size":90,"angle":22},
"encoding":{"x":{"field":"x","type":"temporal","axis":null},"y":{"field":"y","type":"quantitative","axis":null}}},
{"data":{"values":[{"x":"1978-02-23","y":1.72}]},"mark":{"type":"point","shape":"triangle-right","filled":true,"color":"#1a1a1a","opacity":1,"size":90,"angle":347},
"encoding":{"x":{"field":"x","type":"temporal","axis":null},"y":{"field":"y","type":"quantitative","axis":null}}},
{"data":{"values":[{"x":"2019-02-06","y":-0.53}]},"mark":{"type":"point","shape":"triangle-right","filled":true,"color":"#1a1a1a","opacity":1,"size":90,"angle":5},
"encoding":{"x":{"field":"x","type":"temporal","axis":null},"y":{"field":"y","type":"quantitative","axis":null}}}
]},
{"data":{"name":"box"},
"mark":{"type":"rect","fillOpacity":0,"stroke":"#6e6e6e","strokeWidth":1.2},
"encoding":{
"x":{"field":"x","type":"temporal","scale":{"type":"utc","domain":[{"year":1949,"month":1,"date":1,"utc":true},{"year":2021,"month":6,"date":15,"utc":true}]},
"axis":{"orient":"bottom","title":null,"grid":false,"labelOverlap":false,"labelFlush":false,"labelFont":"Noto Sans","labelFontSize":10,"labelColor":"#333333","labelPadding":3,"tickColor":"#888888","domainColor":"#8a8a8a","domainWidth":1.5,
"tickSize":{"condition":{"test":"utcyear(datum.value) % 5 == 4","value":5},"value":3},
"labelExpr":"utcyear(datum.value) % 5 == 4 ? utcFormat(datum.value, '%y-%m') : ''",
"values":[{"year":1949,"month":12,"utc":true},{"year":1950,"month":12,"utc":true},{"year":1951,"month":12,"utc":true},{"year":1952,"month":12,"utc":true},{"year":1953,"month":12,"utc":true},{"year":1954,"month":12,"utc":true},{"year":1955,"month":12,"utc":true},{"year":1956,"month":12,"utc":true},{"year":1957,"month":12,"utc":true},{"year":1958,"month":12,"utc":true},{"year":1959,"month":12,"utc":true},{"year":1960,"month":12,"utc":true},{"year":1961,"month":12,"utc":true},{"year":1962,"month":12,"utc":true},{"year":1963,"month":12,"utc":true},{"year":1964,"month":12,"utc":true},{"year":1965,"month":12,"utc":true},{"year":1966,"month":12,"utc":true},{"year":1967,"month":12,"utc":true},{"year":1968,"month":12,"utc":true},{"year":1969,"month":12,"utc":true},{"year":1970,"month":12,"utc":true},{"year":1971,"month":12,"utc":true},{"year":1972,"month":12,"utc":true},{"year":1973,"month":12,"utc":true},{"year":1974,"month":12,"utc":true},{"year":1975,"month":12,"utc":true},{"year":1976,"month":12,"utc":true},{"year":1977,"month":12,"utc":true},{"year":1978,"month":12,"utc":true},{"year":1979,"month":12,"utc":true},{"year":1980,"month":12,"utc":true},{"year":1981,"month":12,"utc":true},{"year":1982,"month":12,"utc":true},{"year":1983,"month":12,"utc":true},{"year":1984,"month":12,"utc":true},{"year":1985,"month":12,"utc":true},{"year":1986,"month":12,"utc":true},{"year":1987,"month":12,"utc":true},{"year":1988,"month":12,"utc":true},{"year":1989,"month":12,"utc":true},{"year":1990,"month":12,"utc":true},{"year":1991,"month":12,"utc":true},{"year":1992,"month":12,"utc":true},{"year":1993,"month":12,"utc":true},{"year":1994,"month":12,"utc":true},{"year":1995,"month":12,"utc":true},{"year":1996,"month":12,"utc":true},{"year":1997,"month":12,"utc":true},{"year":1998,"month":12,"utc":true},{"year":1999,"month":12,"utc":true},{"year":2000,"month":12,"utc":true},{"year":2001,"month":12,"utc":true},{"year":2002,"month":12,"utc":true},{"year":2003,"month":12,"utc":true},{"year":2004,"month":12,"utc":true},{"year":2005,"month":12,"utc":true},{"year":2006,"month":12,"utc":true},{"year":2007,"month":12,"utc":true},{"year":2008,"month":12,"utc":true},{"year":2009,"month":12,"utc":true},{"year":2010,"month":12,"utc":true},{"year":2011,"month":12,"utc":true},{"year":2012,"month":12,"utc":true},{"year":2013,"month":12,"utc":true},{"year":2014,"month":12,"utc":true},{"year":2015,"month":12,"utc":true},{"year":2016,"month":12,"utc":true},{"year":2017,"month":12,"utc":true},{"year":2018,"month":12,"utc":true},{"year":2019,"month":12,"utc":true},{"year":2020,"month":12,"utc":true}]}},
"x2":{"field":"x2"},
"y":{"field":"y","type":"quantitative","scale":{"domain":[-6.9,15.6],"nice":false,"zero":false},
"axis":{"orient":"right","title":"%","titleAngle":0,"titleX":-4,"titleY":-1,"titleAlign":"center","titleBaseline":"bottom","titleFontSize":9,"titleFontWeight":"bold","titleColor":"#555555","grid":false,"labelOverlap":false,
"tickSize":{"condition":{"test":"datum.value % 3 == 0","value":4},"value":2},
"labelExpr":"datum.value % 3 == 0 ? datum.label : ''",
"values":[-6,-5,-4,-3,-2,-1,0,1,2,3,4,5,6,7,8,9,10,11,12,13,14,15],
"labelFont":"Noto Sans","labelFontSize":10.5,"labelColor":"#333333","labelPadding":3,"tickColor":"#888888","domainColor":"#8a8a8a","domainWidth":1.5}},
"y2":{"field":"y2"}}},
{"data":{"name":"box"},
"mark":{"type":"rect","opacity":0},
"encoding":{
"x":{"field":"x","type":"temporal","axis":null,"scale":{"type":"utc","domain":[{"year":1949,"month":1,"date":1,"utc":true},{"year":2021,"month":6,"date":15,"utc":true}]}},
"x2":{"field":"x2"},
"y":{"field":"y","type":"quantitative","scale":{"domain":[-6.9,15.6],"nice":false,"zero":false},
"axis":{"orient":"left","title":"%","titleAngle":0,"titleX":5,"titleY":-1,"titleAlign":"center","titleBaseline":"bottom","titleFontSize":9,"titleFontWeight":"bold","titleColor":"#555555","grid":true,"gridColor":"#ececec","labelOverlap":false,
"gridOpacity":{"condition":{"test":"datum.value % 3 == 0","value":1},"value":0},
"tickSize":{"condition":{"test":"datum.value % 3 == 0","value":4},"value":2},
"labelExpr":"datum.value % 3 == 0 ? datum.label : ''",
"values":[-6,-5,-4,-3,-2,-1,0,1,2,3,4,5,6,7,8,9,10,11,12,13,14,15],
"labelFont":"Noto Sans","labelFontSize":10.5,"labelColor":"#333333","labelPadding":2,"tickColor":"#888888","domainColor":"#8a8a8a","domainWidth":1.5}},
"y2":{"field":"y2"}}}
],
"resolve":{"scale":{"x":"independent","y":"independent"}}
}
